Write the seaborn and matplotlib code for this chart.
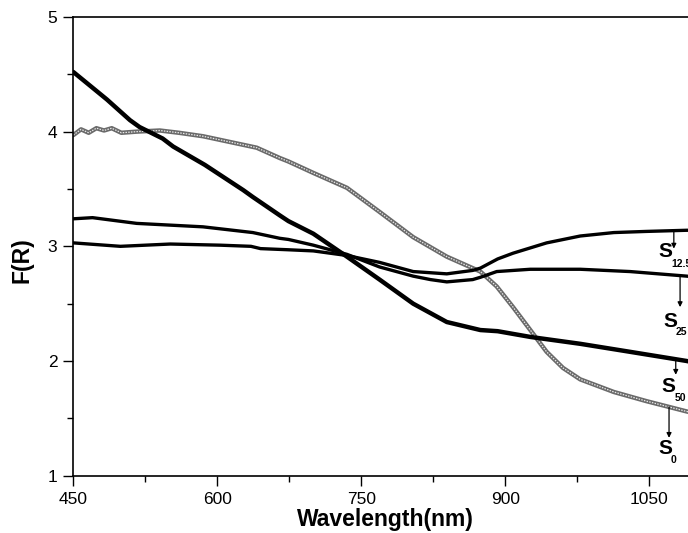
import numpy as np
import pandas as pd
import matplotlib
matplotlib.use("Agg")
import matplotlib.pyplot as plt
from matplotlib.ticker import MultipleLocator
import seaborn as sns

# Kubelka-Munk spectra, F(R) vs wavelength (nm)
wl_s50 = [450, 485, 509, 519, 543, 554, 587, 627, 637, 665, 674, 700, 735, 769,
          804, 839, 874, 892, 926, 978, 1030, 1089, 1100]
fr_s50 = [4.52, 4.28, 4.10, 4.04, 3.94, 3.87, 3.71, 3.49, 3.43, 3.27, 3.22, 3.11,
          2.91, 2.71, 2.50, 2.34, 2.27, 2.26, 2.21, 2.15, 2.08, 2.00, 1.98]

wl_s0 = [450, 458, 466, 474, 482, 490, 500, 516, 540, 560, 585, 641, 665, 674,
         700, 735, 769, 804, 839, 874, 891, 908, 926, 943, 960, 978, 1013, 1047,
         1089, 1100]
fr_s0 = [3.97, 4.02, 3.99, 4.03, 4.01, 4.03, 3.99, 4.00, 4.01, 3.99, 3.96, 3.86,
         3.77, 3.74, 3.64, 3.51, 3.30, 3.08, 2.91, 2.78, 2.65, 2.47, 2.27, 2.08,
         1.94, 1.84, 1.73, 1.65, 1.56, 1.54]

wl_s125 = [450, 499, 551, 603, 635, 645, 674, 700, 735, 769, 804, 839, 866, 874,
           892, 908, 943, 978, 1013, 1047, 1089, 1100]
fr_s125 = [3.03, 3.00, 3.02, 3.01, 3.00, 2.98, 2.97, 2.96, 2.92, 2.86, 2.78, 2.76,
           2.79, 2.81, 2.89, 2.94, 3.03, 3.09, 3.12, 3.13, 3.14, 3.14]

wl_s25 = [450, 470, 516, 585, 637, 665, 674, 700, 735, 769, 804, 822, 839, 866,
          874, 891, 926, 978, 1030, 1089, 1100]
fr_s25 = [3.24, 3.25, 3.20, 3.17, 3.12, 3.07, 3.06, 3.01, 2.93, 2.82, 2.74, 2.71,
          2.69, 2.71, 2.73, 2.78, 2.80, 2.80, 2.78, 2.74, 2.73]

x_ticks = [450, 600, 750, 900, 1050]
y_ticks = [1, 2, 3, 4, 5]

sns.set_style("ticks")
plt.rcParams["font.family"] = ["Liberation Sans", "DejaVu Sans"]
plt.rcParams["text.color"] = "black"
plt.rcParams["axes.labelcolor"] = "black"
plt.rcParams["xtick.color"] = "black"
plt.rcParams["ytick.color"] = "black"

fig = plt.figure(figsize=(6.88, 5.33), dpi=100)
ax = fig.add_axes([0.1066, 0.1075, 0.907, 0.8607])

series = {
    "S50": (wl_s50, fr_s50),
    "S0": (wl_s0, fr_s0),
    "S12.5": (wl_s125, fr_s125),
    "S25": (wl_s25, fr_s25),
}
frames = {k: pd.DataFrame({"wl": v[0], "fr": v[1]}) for k, v in series.items()}

# S0 drawn as a grey textured trace (open-marker look)
sns.lineplot(data=frames["S0"], x="wl", y="fr", ax=ax, color="#6a6a6a",
             linewidth=3.2, sort=False, estimator=None)
sns.lineplot(data=frames["S0"], x="wl", y="fr", ax=ax, color="#e8e8e8",
             linewidth=0.9, sort=False, estimator=None, dashes=False,
             linestyle=(0, (1.2, 1.0)))
sns.lineplot(data=frames["S12.5"], x="wl", y="fr", ax=ax, color="black",
             linewidth=2.4, sort=False, estimator=None)
sns.lineplot(data=frames["S25"], x="wl", y="fr", ax=ax, color="black",
             linewidth=2.4, sort=False, estimator=None)
sns.lineplot(data=frames["S50"], x="wl", y="fr", ax=ax, color="black",
             linewidth=3.2, sort=False, estimator=None)

ax.set_xlim(450, 1100)
ax.set_ylim(1, 5)
ax.set_xticks(x_ticks)
ax.set_yticks(y_ticks)
ax.xaxis.set_minor_locator(MultipleLocator(75))
ax.yaxis.set_minor_locator(MultipleLocator(0.5))
ax.tick_params(which="major", direction="out", length=7.5, width=1.0,
               labelsize=12.5, pad=4, color="black", labelcolor="black")
ax.tick_params(which="minor", direction="out", length=4, width=1.0, color="black")
for sp in ["left", "bottom", "top"]:
    ax.spines[sp].set_visible(True)
    ax.spines[sp].set_linewidth(1.2)
    ax.spines[sp].set_color("black")
ax.spines["right"].set_visible(False)

ax.set_xlabel("Wavelength(nm)", fontsize=16.5, fontweight="bold", labelpad=1)
ax.set_ylabel("F(R)", fontsize=16.5, fontweight="bold")
ax.yaxis.set_label_coords(-0.064, 0.47)

# Series labels with arrows pointing to each trace
labels = [
    # key, arrow x, arrow tip y, S x, S y, sub x, sub y, sub text
    ("S12.5", 1075.5, 2.98, 1066.4, 2.955, 1072.5, 2.85, "12.5"),
    ("S25", 1082.0, 2.47, 1071.5, 2.345, 1077.8, 2.25, "25"),
    ("S50", 1077.5, 1.88, 1069.8, 1.78, 1076.8, 1.675, "50"),
    ("S0", 1070.5, 1.33, 1066.4, 1.24, 1072.3, 1.14, "0"),
]
for key, ax_x, tip_y, sx, sy, bx, by, sub in labels:
    wl, fr = series[key]
    tail_y = np.interp(ax_x, wl, fr)
    ax.annotate("", xy=(ax_x, tip_y), xytext=(ax_x, tail_y),
                arrowprops=dict(arrowstyle="-|>", color="black", lw=0.9,
                                mutation_scale=7, shrinkA=0, shrinkB=0))
    ax.text(sx, sy, "S", fontsize=15, fontweight="bold",
            ha="center", va="center", clip_on=False)
    ax.text(bx, by, sub, fontsize=7.5, fontweight="bold",
            ha="left", va="center", clip_on=False)

fig.savefig("out.png", dpi=100, facecolor="white")
